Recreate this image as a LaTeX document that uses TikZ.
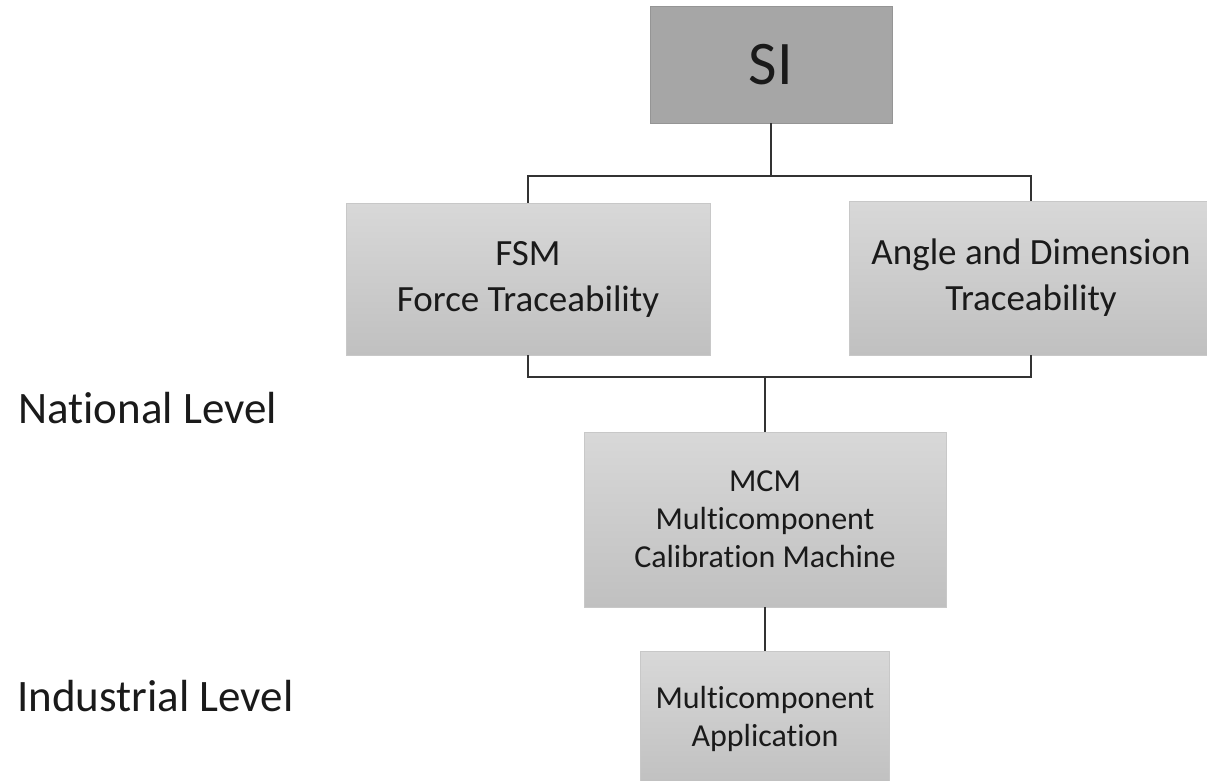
\documentclass[tikz,border=0pt]{standalone}
\usepackage{fontspec}
\setmainfont{Carlito}[Ligatures=NoCommon]
\definecolor{siGray}{HTML}{A6A6A6}
\definecolor{boxTop}{HTML}{D8D8D8}
\definecolor{boxBot}{HTML}{C0C0C0}
\definecolor{boxLine}{HTML}{C8C8C8}
\definecolor{linkGray}{HTML}{333333}
\definecolor{txtGray}{HTML}{1A1A1A}

\begin{document}
\begin{tikzpicture}[
  x=1pt, y=-1pt,
  sibox/.style={rectangle, fill=siGray, draw=siGray!90!black, line width=0.8pt, minimum width=242pt, minimum height=117pt, inner sep=0pt, text=txtGray, font=\fontsize{62}{70}\selectfont},
  tbox/.style={rectangle, top color=boxTop, bottom color=boxBot, draw=boxLine, line width=0.8pt, inner sep=0pt, align=center, text=txtGray},
  link/.style={line width=2.6pt, draw=linkGray},
  level/.style={anchor=west, inner sep=0pt, text=txtGray, font=\fontsize{45}{50}\selectfont}
]
  \useasboundingbox (0,0) rectangle (1207,781);

  % Vertices del árbol de trazabilidad
  \node[sibox] (si) at (771, 64.5) {SI};
  \node[tbox, minimum width=364pt, minimum height=152pt, font=\fontsize{37}{46}\selectfont] (fsm) at (528, 279) {FSM\\Force Traceability};
  \node[tbox, minimum width=364pt, minimum height=154pt, font=\fontsize{37}{46}\selectfont] (adt) at (1031, 278) {Angle and Dimension\\Traceability};
  \node[tbox, minimum width=362pt, minimum height=175pt, font=\fontsize{32}{38}\selectfont] (mcm) at (765, 519.5) {MCM\\Multicomponent\\Calibration Machine};
  \node[tbox, minimum width=249pt, minimum height=136pt, font=\fontsize{32}{38}\selectfont] (app) at (765, 719) {Multicomponent\\Application};

  % Niveles
  \node[level] (national) at (18, 408) {National Level};
  \node[level] (industrial) at (17, 696) {Industrial Level};

  % Conexiones
  \coordinate (split) at (771, 176);
  \coordinate (join) at (765, 377);
  \draw[link] (si.south) -- (split);
  \draw[link] (fsm.north) |- (split) -| (adt.north);
  \draw[link] (fsm.south) |- (join) -| (adt.south);
  \draw[link] (join) -- (mcm.north);
  \draw[link] (mcm.south) -- (app.north);

\end{tikzpicture}
\end{document}
